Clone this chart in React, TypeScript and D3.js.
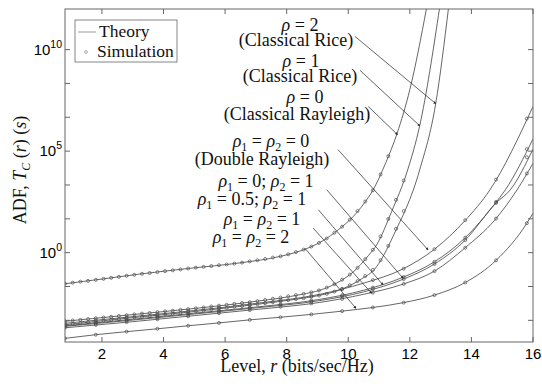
import React from 'react';
import * as d3 from 'd3';

// theory curves: [level r, log10 ADF]
const rayleigh0: [number, number][] = [[0.8,-1.53],[2,-1.3],[3.2,-1.06],[4.8,-0.78],[6.5,-0.5],[7.8,-0.18],[8.65,0.2],[9.19,0.6],[9.67,1.12],[10.16,1.78],[10.5,2.4],[10.81,3.1],[11.19,4.33],[11.59,5.89],[12.0,8.03],[12.55,12.1]];
const rice1: [number, number][] = [[0.8,-3.38],[3,-3.05],[5,-2.75],[7,-2.4],[8.5,-2.05],[9.08,-1.85],[9.62,-1.5],[10.16,-0.95],[10.65,-0.15],[10.92,0.38],[11.41,2.03],[11.93,4.08],[12.32,6.25],[12.97,12.1]];
const rice2: [number, number][] = [[0.8,-3.55],[3,-3.2],[5,-2.9],[7,-2.55],[8.5,-2.25],[9.08,-2.1],[9.73,-1.83],[10.38,-1.34],[10.92,-0.69],[11.19,-0.02],[11.45,0.79],[12.32,4.08],[12.84,7.34],[13.26,12.1]];
const dbl00: [number, number][] = [[0.8,-3.48],[3,-3.15],[5,-2.85],[7,-2.5],[9.08,-2.05],[10.5,-1.5],[11.78,-0.8],[12.81,0.18],[13.78,1.56],[14.6,3.09],[16,7.2]];
const dbl01: [number, number][] = [[0.8,-3.6],[3,-3.28],[5,-2.98],[7,-2.68],[9.08,-2.3],[10.5,-1.85],[11.78,-1.21],[12.81,-0.44],[13.78,0.71],[14.76,2.4],[15.1,3.09],[16,5.6]];
const dbl051: [number, number][] = [[0.8,-3.63],[3,-3.32],[5,-3.02],[7,-2.72],[9.08,-2.36],[10.5,-1.93],[11.78,-1.31],[12.81,-0.55],[13.78,0.59],[14.8,2.45],[15.26,3.09],[16,5.1]];
const dbl11: [number, number][] = [[0.8,-3.7],[3,-3.4],[5,-3.1],[7,-2.8],[9.08,-2.45],[10.5,-2.05],[11.78,-1.55],[12.81,-0.9],[13.78,0.22],[14.76,1.61],[15.48,3.09],[16,4.4]];
const dbl22: [number, number][] = [[0.8,-4.22],[1.8,-4.04],[2.8,-3.89],[3.8,-3.75],[4.8,-3.6],[5.8,-3.46],[6.8,-3.31],[7.8,-3.18],[8.8,-3.04],[9.8,-2.88],[10.8,-2.7],[11.8,-2.46],[12.8,-2.09],[13.8,-1.47],[14.8,-0.38],[15.8,1.45],[16,1.95]];

// simulation: levels start at 0.8 with a fixed step, values are log10 ADF
const simFineStep = 0.25;
const simCoarseStep = 1;
const simRayleigh0 = [-1.53,-1.48,-1.43,-1.39,-1.34,-1.29,-1.24,-1.19,-1.14,-1.09,-1.04,-1.0,-0.96,-0.91,-0.87,-0.83,-0.78,-0.74,-0.7,-0.66,-0.62,-0.58,-0.54,-0.49,-0.43,-0.37,-0.31,-0.24,-0.18,-0.08,0.03,0.15,0.3,0.48,0.7,0.98,1.28,1.62,2.05,2.52,3.07,3.85,4.75];
const simRice1 = [-3.38,-3.34,-3.31,-3.27,-3.23,-3.19,-3.16,-3.12,-3.08,-3.04,-3.0,-2.97,-2.93,-2.89,-2.86,-2.82,-2.78,-2.74,-2.7,-2.65,-2.61,-2.57,-2.52,-2.48,-2.44,-2.39,-2.33,-2.27,-2.21,-2.15,-2.09,-2.03,-1.95,-1.86,-1.72,-1.55,-1.33,-1.08,-0.75,-0.32,0.14,0.8,1.66,2.6,3.55];
const simRice2 = [-3.55,-3.51,-3.47,-3.43,-3.39,-3.35,-3.31,-3.27,-3.23,-3.19,-3.16,-3.12,-3.08,-3.04,-3.01,-2.97,-2.93,-2.89,-2.85,-2.8,-2.76,-2.72,-2.67,-2.63,-2.59,-2.54,-2.49,-2.44,-2.39,-2.34,-2.29,-2.24,-2.18,-2.11,-2.03,-1.92,-1.78,-1.6,-1.4,-1.15,-0.85,-0.37,0.33,1.17,2.05];
const simDbl00 = [-3.48,-3.33,-3.18,-3.03,-2.88,-2.71,-2.54,-2.33,-2.12,-1.8,-1.35,-0.79,0.17,1.6,3.6,6.6];
const simDbl01 = [-3.6,-3.45,-3.31,-3.16,-3.01,-2.86,-2.71,-2.54,-2.36,-2.1,-1.72,-1.2,-0.45,0.74,2.5,5.1];
const simDbl051 = [-3.63,-3.49,-3.35,-3.2,-3.05,-2.9,-2.75,-2.58,-2.41,-2.16,-1.8,-1.3,-0.56,0.62,2.45,4.7];
const simDbl11 = [-3.7,-3.56,-3.42,-3.28,-3.13,-2.98,-2.83,-2.66,-2.5,-2.28,-1.97,-1.54,-0.91,0.24,1.68,3.9];
const simDbl22 = [-4.22,-4.04,-3.89,-3.75,-3.6,-3.46,-3.31,-3.18,-3.04,-2.88,-2.7,-2.46,-2.09,-1.47,-0.38,1.45];

const xTicks = [2, 4, 6, 8, 10, 12, 14, 16];
const yTickExps = [-10 / 3, -5 / 3, 0, 5 / 3, 10 / 3, 5, 20 / 3, 25 / 3, 10];
const yLabelExps = [0, 5, 10];

// leader lines: from label side to the curve, in [r, log10 ADF]
const leaders: [[number, number], [number, number]][] = [
  [[10.21, 10.66], [12.84, 7.34]],
  [[10.38, 8.98], [12.32, 6.25]],
  [[10.65, 7.2], [11.6, 5.81]],
  [[9.67, 5.07], [12.59, 0.14]],
  [[9.3, 3.1], [11.78, -1.26]],
  [[9.03, 2.11], [11.13, -1.59]],
  [[8.86, 1.21], [10.76, -2.0]],
  [[8.59, 0.22], [10.25, -2.74]],
];

const W = 542;
const H = 388;
const plot = { left: 65, right: 533, top: 9, bottom: 342 };
const serif = 'Liberation Serif, DejaVu Serif, serif';
const sans = 'Liberation Sans, Arimo, sans-serif';
const ink = '#4a4a4a';

const Rho = ({ sub }: { sub?: string }) => (
  <>
    <tspan fontStyle="italic">ρ</tspan>
    {sub ? <tspan fontSize={12} dy={4}>{sub}</tspan> : null}
    {sub ? <tspan dy={-4}> </tspan> : null}
  </>
);

export default function App() {
  const x = d3.scaleLinear().domain([0.8, 16]).range([plot.left, plot.right]);
  const y = d3.scaleLinear().domain([-4.4, 12]).range([plot.bottom, plot.top]);
  const line = d3.line<[number, number]>().x(d => x(d[0])).y(d => y(d[1])).curve(d3.curveMonotoneX);

  const theory = [rayleigh0, rice1, rice2, dbl00, dbl01, dbl051, dbl11, dbl22];
  const sims: [number[], number][] = [
    [simRayleigh0, simFineStep], [simRice1, simFineStep], [simRice2, simFineStep],
    [simDbl00, simCoarseStep], [simDbl01, simCoarseStep], [simDbl051, simCoarseStep],
    [simDbl11, simCoarseStep], [simDbl22, simCoarseStep],
  ];

  const labelStyle = { fontFamily: serif, fontSize: 18, fill: '#111' } as const;

  return (
    <svg width={W} height={H} style={{ position: 'absolute', left: 0, top: 0, background: '#fff' }}>
      <defs>
        <clipPath id="plotClip">
          <rect x={plot.left} y={plot.top} width={plot.right - plot.left} height={plot.bottom - plot.top} />
        </clipPath>
        <marker id="arrow" viewBox="0 0 6 6" refX={5} refY={3} markerWidth={4} markerHeight={4} orient="auto">
          <path d="M0,0 L6,3 L0,6 z" fill="#222" />
        </marker>
      </defs>

      <g clipPath="url(#plotClip)">
        {theory.map((c, i) => (
          <path key={i} d={line(c) ?? ''} fill="none" stroke={ink} strokeWidth={0.85} />
        ))}
        {sims.map(([vals, step], i) =>
          vals.map((v, j) => (
            <circle key={`${i}-${j}`} cx={x(0.8 + j * step)} cy={y(v)} r={1.5} fill="none" stroke={ink} strokeWidth={0.7} />
          ))
        )}
        {leaders.map(([a, b], i) => (
          <line key={i} x1={x(a[0])} y1={y(a[1])} x2={x(b[0])} y2={y(b[1])} stroke="#222" strokeWidth={0.7} markerEnd="url(#arrow)" />
        ))}
      </g>

      {/* frame and ticks */}
      <rect x={plot.left} y={plot.top} width={plot.right - plot.left} height={plot.bottom - plot.top} fill="none" stroke="#666" strokeWidth={1} />
      {xTicks.map(t => (
        <g key={t}>
          <line x1={x(t)} x2={x(t)} y1={plot.bottom} y2={plot.bottom - 5} stroke="#666" />
          <line x1={x(t)} x2={x(t)} y1={plot.top} y2={plot.top + 5} stroke="#666" />
          <text x={x(t)} y={359} textAnchor="middle" style={{ fontFamily: sans, fontSize: 15 }}>{t}</text>
        </g>
      ))}
      {yTickExps.map((e, i) => (
        <g key={i}>
          <line x1={plot.left} x2={plot.left + 5} y1={y(e)} y2={y(e)} stroke="#666" />
          <line x1={plot.right} x2={plot.right - 5} y1={y(e)} y2={y(e)} stroke="#666" />
        </g>
      ))}
      {yLabelExps.map(e => (
        <text key={e} x={plot.left - 3} y={y(e) + 5} textAnchor="end" style={{ fontFamily: sans, fontSize: 15 }}>
          10<tspan fontSize={10.5} dy={-7}>{e}</tspan>
        </text>
      ))}

      <g style={labelStyle}>
        {/* axis titles */}
        <text x={297} y={372} textAnchor="middle">
          Level, <tspan fontStyle="italic">r</tspan> (bits/sec/Hz)
        </text>
        <text transform="translate(26,170) rotate(-90)" textAnchor="middle">
          ADF, <tspan fontStyle="italic">T</tspan><tspan fontSize={12} dy={4} fontStyle="italic">C</tspan><tspan dy={-4}> (</tspan><tspan fontStyle="italic">r</tspan>)  (<tspan fontStyle="italic">s</tspan>)
        </text>

        {/* legend */}
        <rect x={75} y={20} width={102} height={42} fill="#fff" stroke="#666" strokeWidth={0.8} />
        <line x1={78} x2={96} y1={32} y2={32} stroke="#999" strokeWidth={1} />
        <text x={99} y={37} style={{ fontSize: 17.5 }}>Theory</text>
        <circle cx={86} cy={52} r={1.4} fill="none" stroke="#999" strokeWidth={0.8} />
        <text x={97} y={57} style={{ fontSize: 17.5 }}>Simulation</text>

        {/* curve labels */}
        <g textAnchor="middle">
          <text x={300} y={31}><Rho /> = 2</text>
          <text x={296} y={46}>(Classical Rice)</text>
          <text x={301} y={67}><Rho /> = 1</text>
          <text x={300} y={82}>(Classical Rice)</text>
          <text x={305} y={103}><Rho /> = 0</text>
          <text x={297} y={120}>(Classical Rayleigh)</text>
          <text x={271} y={147}><Rho sub="1" />= <Rho sub="2" />= 0</text>
          <text x={262} y={165}>(Double Rayleigh)</text>
          <text x={266} y={187}><Rho sub="1" />= 0; <Rho sub="2" />= 1</text>
          <text x={252} y={205}><Rho sub="1" />= 0.5; <Rho sub="2" />= 1</text>
          <text x={262} y={225}><Rho sub="1" />= <Rho sub="2" />= 1</text>
          <text x={251} y={243}><Rho sub="1" />= <Rho sub="2" />= 2</text>
        </g>
      </g>
    </svg>
  );
}
